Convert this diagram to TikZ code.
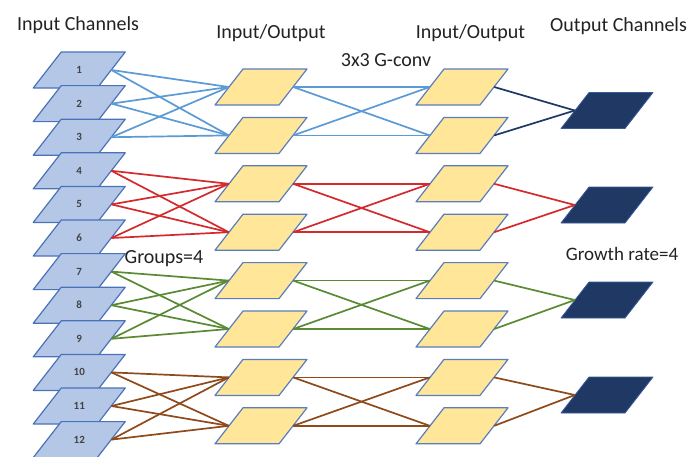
\documentclass[tikz,border=0pt]{standalone}
\usepackage{fontspec}
\setmainfont{Carlito}
\definecolor{chfill}{HTML}{B4C7E7}
\definecolor{chdraw}{HTML}{4A72B8}
\definecolor{yfill}{HTML}{FFE699}
\definecolor{ydraw}{HTML}{5A7DBE}
\definecolor{nfill}{HTML}{203864}
\definecolor{ndraw}{HTML}{3A5A9A}
\definecolor{lblue}{HTML}{5B9BD5}
\definecolor{lnavy}{HTML}{1F3864}
\definecolor{lred}{HTML}{D42A2E}
\definecolor{lgreen}{HTML}{5A8A34}
\definecolor{lbrown}{HTML}{8E4A1A}
\definecolor{txt}{HTML}{222222}
% name, x, y, shape style, label
\newcommand{\Para}[5]{%
  \draw[#4] (#2-18,#3-18) -- (#2+46,#3-18) -- (#2+18,#3+18) -- (#2-46,#3+18) -- cycle;
  \node[anchorbox] (#1) at (#2,#3) {#5};
}
\begin{document}
\begin{tikzpicture}[x=1pt,y=-1pt,
  anchorbox/.style={minimum width=64pt,minimum height=36pt,inner sep=0pt,
    font=\fontsize{11}{13}\selectfont\bfseries,text=txt!85},
  inbox/.style={fill=chfill,draw=chdraw,line width=1.2pt,line join=round},
  ybox/.style={fill=yfill,draw=ydraw,line width=1.2pt,line join=round},
  nbox/.style={fill=nfill,draw=ndraw,line width=0.8pt,line join=round},
  title/.style={font=\fontsize{20}{24}\selectfont,text=txt,anchor=base,inner sep=0pt},
  conn/.style={line width=1.7pt}]
\useasboundingbox (0,0) rectangle (692,456);
\fill[white] (0,0) rectangle (692,456);

% input channels
\foreach \k in {1,...,12}{
  \pgfmathsetmacro{\cy}{70+33.6*(\k-1)}
  \Para{c\k}{79.25}{\cy}{inbox}{\k}
}
% yellow columns
\foreach \i in {1,...,8}{
  \pgfmathsetmacro{\cy}{87+48.4*(\i-1)}
  \Para{a\i}{261}{\cy}{ybox}{}
  \Para{b\i}{462}{\cy}{ybox}{}
}
% outputs
\Para{o1}{607}{110.5}{nbox}{}
\Para{o2}{607}{205}{nbox}{}
\Para{o3}{607}{300}{nbox}{}
\Para{o4}{607}{395}{nbox}{}

% connectors
\foreach \g/\col/\ocol in {1/lblue/lnavy,2/lred/lred,3/lgreen/lgreen,4/lbrown/lbrown}{
  \pgfmathtruncatemacro{\ya}{2*\g-1}
  \pgfmathtruncatemacro{\yb}{2*\g}
  \foreach \j in {1,2,3}{
    \pgfmathtruncatemacro{\c}{3*(\g-1)+\j}
    \draw[conn,\col] (c\c.east) -- (a\ya.west);
    \draw[conn,\col] (c\c.east) -- (a\yb.west);
  }
  \draw[conn,\col] (a\ya.east) -- (b\ya.west);
  \draw[conn,\col] (a\ya.east) -- (b\yb.west);
  \draw[conn,\col] (a\yb.east) -- (b\ya.west);
  \draw[conn,\col] (a\yb.east) -- (b\yb.west);
  \draw[conn,\ocol] (b\ya.east) -- (o\g.west);
  \draw[conn,\ocol] (b\yb.east) -- (o\g.west);
}

% texts
\node[title] (t1) at (78,30) {Input Channels};
\node[title] (t2) at (271,38) {Input/Output};
\node[title] (t3) at (470.5,38) {Input/Output};
\node[title] (t4) at (618.5,31) {Output Channels};
\node[title] (t5) at (386,66.5) {3x3 G-conv};
\node[title] (t6) at (164,263) {Groups=4};
\node[title,font=\fontsize{19}{22}\selectfont] (t7) at (622,260) {Growth rate=4};
\end{tikzpicture}
\end{document}
